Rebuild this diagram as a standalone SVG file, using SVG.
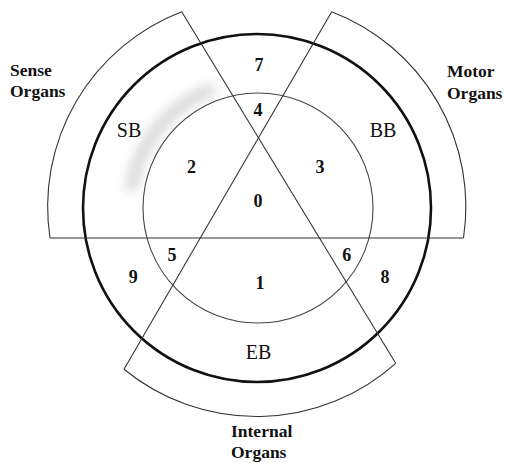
<svg xmlns="http://www.w3.org/2000/svg" width="505" height="463" viewBox="0 0 505 463">
<style>
.thin{fill:none;stroke:#333;stroke-width:1.1}
.inner{fill:none;stroke:#444;stroke-width:1.1}
.thick{fill:none;stroke:#111;stroke-width:2.6}
.lbl{font-family:"Liberation Serif","Times New Roman",serif;font-weight:bold;font-size:17.5px;fill:#111}
.num{font-family:"Liberation Serif","Times New Roman",serif;font-weight:bold;font-size:18px;fill:#111;text-anchor:middle}
.band{font-family:"Liberation Serif","Times New Roman",serif;font-size:20px;fill:#111;text-anchor:middle}
</style>
<defs>
<filter id="blur" x="-50%" y="-50%" width="200%" height="200%"><feGaussianBlur stdDeviation="6"/></filter>
</defs>
<rect width="505" height="463" fill="#fff"/>
<path d="M131.9,186 A127,127 0 0 1 209.4,90.2" fill="none" stroke="#d6d6d6" stroke-width="12" stroke-linecap="round" filter="url(#blur)"/>
<g id="circles">
<circle id="inner-circle" class="inner" cx="258" cy="208" r="115"/>
<circle id="thick-circle" class="thick" cx="257" cy="208" r="174"/>
</g>
<g id="sense-organs">
<path class="thin" d="M181.7,11.7 A209,209 0 0 0 50,238"/>
<text class="lbl" x="10" y="76">Sense</text>
<text class="lbl" x="10" y="97">Organs</text>
</g>
<g id="motor-organs">
<path class="thin" d="M331.7,11.7 A209,209 0 0 1 463.5,238"/>
<text class="lbl" x="447" y="77">Motor</text>
<text class="lbl" x="447" y="99">Organs</text>
</g>
<g id="internal-organs">
<path class="thin" d="M124,369.3 A209,209 0 0 0 395.7,363.3"/>
<text class="lbl" x="231" y="437">Internal</text>
<text class="lbl" x="231" y="458">Organs</text>
</g>
<g id="connectors">
<line class="thin" x1="50" y1="238" x2="463.5" y2="238"/>
<line class="thin" x1="181.7" y1="11.7" x2="395.7" y2="363.3"/>
<line class="thin" x1="331.7" y1="11.7" x2="124" y2="369.3"/>
</g>
<g id="SB"><text class="band" x="129" y="137">SB</text></g>
<g id="BB"><text class="band" x="383" y="137">BB</text></g>
<g id="EB"><text class="band" x="258.5" y="359">EB</text></g>
<g id="n0"><text class="num" x="258" y="207">0</text></g>
<g id="n1"><text class="num" x="260" y="289">1</text></g>
<g id="n2"><text class="num" x="191.5" y="173">2</text></g>
<g id="n3"><text class="num" x="320" y="173">3</text></g>
<g id="n4"><text class="num" x="258" y="116">4</text></g>
<g id="n5"><text class="num" x="172" y="261">5</text></g>
<g id="n6"><text class="num" x="346.7" y="261">6</text></g>
<g id="n7"><text class="num" x="259" y="71">7</text></g>
<g id="n8"><text class="num" x="385" y="283">8</text></g>
<g id="n9"><text class="num" x="133.3" y="283">9</text></g>
</svg>
